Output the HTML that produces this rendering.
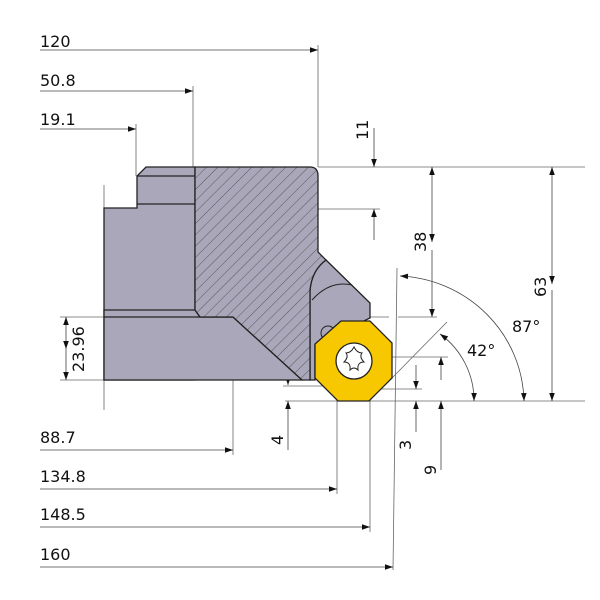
<!DOCTYPE html>
<html><head><style>body{margin:0;background:#fff}svg{display:block}text{font-family:"DejaVu Sans","Liberation Sans",sans-serif;font-size:16px;fill:#111}</style></head><body>
<svg width="600" height="600" viewBox="0 0 600 600" xmlns="http://www.w3.org/2000/svg">
<defs>
<pattern id="h" width="8" height="8" patternUnits="userSpaceOnUse" patternTransform="rotate(45)"><rect width="8" height="8" fill="#a9a7b9"/><line x1="0" y1="0" x2="0" y2="8" stroke="#444" stroke-width="0.8"/></pattern>
<marker id="a" viewBox="0 0 10 10" refX="10" refY="5" markerWidth="11" markerHeight="8" orient="auto-start-reverse" markerUnits="userSpaceOnUse"><path d="M0,1.5 L10,5 L0,8.5 z" fill="#111"/></marker>
</defs>
<g stroke="#666" stroke-width="0.8" fill="none">
<line x1="318" y1="45" x2="318" y2="167"/><line x1="193" y1="86" x2="193" y2="167"/><line x1="136" y1="124" x2="136" y2="176"/>
<line x1="318" y1="167" x2="585" y2="167"/><line x1="198" y1="209" x2="380" y2="209"/>
<line x1="60" y1="317" x2="389" y2="317"/><line x1="398" y1="317" x2="437" y2="317"/>
<line x1="60" y1="380" x2="104" y2="380"/><line x1="285" y1="401" x2="585" y2="401"/>
<line x1="283" y1="386" x2="330" y2="386"/>
<line x1="104" y1="185" x2="104" y2="410"/>
<line x1="233" y1="317" x2="233" y2="455"/><line x1="337" y1="401" x2="337" y2="494"/><line x1="370" y1="401" x2="370" y2="532"/>
<line x1="393" y1="570" x2="397" y2="268"/>
<line x1="392" y1="378" x2="447" y2="322"/>
<line x1="392" y1="357" x2="448" y2="357"/><line x1="380" y1="389" x2="422" y2="389"/>
</g>
<g stroke="#444" stroke-width="0.8" fill="none" marker-end="url(#a)">
<line x1="40" y1="50" x2="318" y2="50"/><line x1="40" y1="91" x2="193" y2="91"/><line x1="40" y1="129" x2="136" y2="129"/>
<line x1="40" y1="450" x2="233" y2="450"/><line x1="40" y1="489" x2="337" y2="489"/><line x1="40" y1="527" x2="370" y2="527"/><line x1="40" y1="567" x2="393" y2="567"/>
<line x1="374" y1="128" x2="374" y2="167"/><line x1="374" y1="240" x2="374" y2="209"/>
<line x1="432" y1="242" x2="432" y2="167" marker-start="url(#a)"/>
<line x1="432" y1="250" x2="432" y2="317"/>
<line x1="552" y1="284" x2="552" y2="167" marker-start="url(#a)"/>
<line x1="552" y1="290" x2="552" y2="401"/>
<line x1="66" y1="349" x2="66" y2="317" marker-start="url(#a)"/><line x1="66" y1="349" x2="66" y2="380"/>
<line x1="288" y1="360" x2="288" y2="385"/><line x1="288" y1="450" x2="288" y2="401"/>
<line x1="416" y1="365" x2="416" y2="389"/><line x1="416" y1="425" x2="416" y2="401"/>
<line x1="441" y1="380" x2="441" y2="357" /><line x1="441" y1="420" x2="441" y2="401"/>
<line x1="441" y1="470" x2="441" y2="420" marker-end="none"/><line x1="416" y1="432" x2="416" y2="425" marker-end="none"/>
<path d="M440,334 A82,82 0 0 1 474,401" marker-end="url(#a)" marker-start="url(#a)"/>
<path d="M400,276 A130,128 0 0 1 524,401" marker-start="url(#a)"/>
</g>
<g stroke="#222" stroke-width="1.3">
<path d="M104,208 L137,208 L137,176 L146,167 L195,167 L195,380 L104,380 Z" fill="#a9a7b9"/>
<line x1="137" y1="204" x2="195" y2="204"/><line x1="137" y1="176" x2="195" y2="176"/>
<path d="M104,310 L195,310 L200,317 L233,317 L302,380 L104,380 Z" fill="#a9a7b9"/>
<line x1="104" y1="317" x2="233" y2="317"/>
<path d="M326,260 L370,303 L370,318 L315,345 L315,380 L310,380 L310,290 Q312,270 326,260 Z" fill="#a9a7b9"/>
<path d="M195,167 L310,167 Q318,167 318,176 L318,252 L326,260 Q312,270 310,290 L310,380 L302,380 L233,317 L200,317 L195,310 Z" fill="url(#h)"/>
<path d="M312,300 Q330,280 352,285" fill="none" stroke-width="1"/>
<circle cx="328" cy="333" r="7" fill="#a9a7b9" stroke-width="1"/>
<path d="M341,321 L370,321 L392,343 L392,378 L369,401 L338,401 L315,378 L315,344 Z" fill="#f7c800"/>
<circle cx="354" cy="361" r="18" fill="#fff"/>
<path d="M354,347 Q357,353 362,353 Q359,357 364,362 Q357,362 358,370 Q354,366 350,370 Q351,362 344,362 Q349,357 346,353 Q351,353 354,347 Z" fill="#fff" stroke-width="1"/>
</g>
<text x="40" y="47">120</text><text x="40" y="86">50.8</text><text x="40" y="125">19.1</text>
<text x="40" y="443">88.7</text><text x="40" y="482">134.8</text><text x="40" y="520">148.5</text><text x="40" y="560">160</text>
<text x="512" y="332">87°</text><text x="467" y="356">42°</text>
<text transform="translate(368,140) rotate(-90)">11</text>
<text transform="translate(426,252) rotate(-90)">38</text>
<text transform="translate(546,297) rotate(-90)">63</text>
<text transform="translate(84,372) rotate(-90)">23.96</text>
<text transform="translate(283,445) rotate(-90)">4</text>
<text transform="translate(411,450) rotate(-90)">3</text>
<text transform="translate(436,475) rotate(-90)">9</text>
</svg>
</body></html>
